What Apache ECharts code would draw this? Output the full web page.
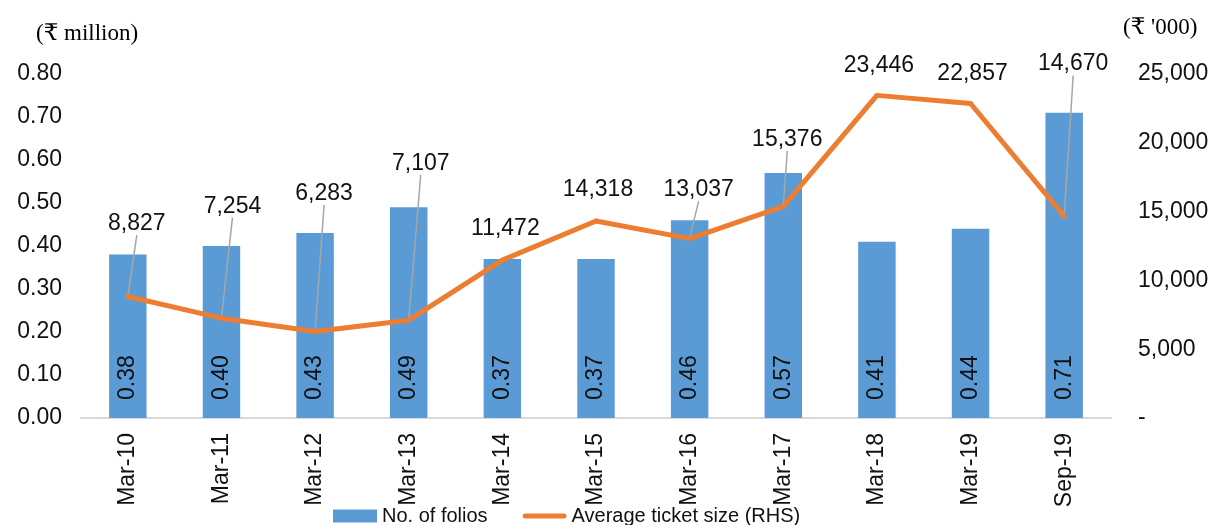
<!DOCTYPE html>
<html>
<head>
<meta charset="utf-8">
<script src="https://cdn.jsdelivr.net/npm/echarts@6/dist/echarts.min.js"></script>
<style>
  html, body { margin: 0; padding: 0; background: #fff; }
  #chart { width: 1216px; height: 525px; }
</style>
</head>
<body>
<div id="chart"></div>
<script>
// data
var categories = ['Mar-10', 'Mar-11', 'Mar-12', 'Mar-13', 'Mar-14', 'Mar-15', 'Mar-16', 'Mar-17', 'Mar-18', 'Mar-19', 'Sep-19'];
var folios = [0.38, 0.40, 0.43, 0.49, 0.37, 0.37, 0.46, 0.57, 0.41, 0.44, 0.71];
var ticketSize = [8827, 7254, 6283, 7107, 11472, 14318, 13037, 15376, 23446, 22857, 14670];

// where the line labels sit relative to their points (px), and which get a leader line
var labelDx = [9, 11, 9, 12, 3, 2, 9, 4, 2, 2, 9];
var labelDy = [-73, -112, -138, -157, -31, -31, -49, -67, -30, -30, -152];
var leader = [true, true, true, true, false, false, true, true, false, false, true];

var font = 'Arial, "Liberation Sans", sans-serif';
var serif = '"Liberation Serif", "DejaVu Serif", serif';

var chart = echarts.init(document.getElementById('chart'));

function fmtThousands(v) {
  return v.toString().replace(/\B(?=(\d{3})+(?!\d))/g, ',');
}

chart.setOption({
  animation: false,
  textStyle: { fontFamily: font },
  title: [
    { text: '(\u20B9 million)', left: 31, top: 17,
      textStyle: { fontFamily: serif, fontSize: 23, fontWeight: 'normal', color: '#000' } },
    { text: "(\u20B9 '000)", left: 1118, top: 11,
      textStyle: { fontFamily: serif, fontSize: 23, fontWeight: 'normal', color: '#000' } }
  ],
  grid: {
    left: 81,
    right: 105,
    top: 74,
    bottom: 107,
    containLabel: false
  },
  legend: {
    left: 328,
    top: 501,
    itemWidth: 44,
    itemHeight: 13,
    itemGap: 35,
    textStyle: { fontFamily: font, fontSize: 20, color: '#111' },
    data: [
      { name: 'No. of folios', icon: 'rect' },
      { name: 'Average ticket size (RHS)',
        icon: 'path://M2.5,0 L43.5,0 A2.5,2.5 0 0 1 43.5,5 L2.5,5 A2.5,2.5 0 0 1 2.5,0 Z' }
    ]
  },
  xAxis: {
    type: 'category',
    data: categories,
    axisLine: { lineStyle: { color: '#d9d9d9', width: 2 } },
    axisTick: { show: false },
    axisLabel: {
      interval: 0,
      rotate: 90,
      margin: 15,
      fontSize: 23,
      color: '#111',
      fontFamily: font
    }
  },
  yAxis: [
    {
      type: 'value',
      min: 0,
      max: 0.8,
      interval: 0.1,
      splitLine: { show: false },
      axisLine: { show: false },
      axisTick: { show: false },
      axisLabel: {
        margin: 19,
        fontSize: 23,
        color: '#111',
        formatter: function (v) { return v.toFixed(2); }
      }
    },
    {
      type: 'value',
      min: 0,
      max: 25000,
      interval: 5000,
      splitLine: { show: false },
      axisLine: { show: false },
      axisTick: { show: false },
      axisLabel: {
        margin: 27,
        fontSize: 23,
        color: '#111',
        formatter: function (v) { return v === 0 ? '-' : fmtThousands(v); }
      }
    }
  ],
  series: [
    {
      name: 'No. of folios',
      type: 'bar',
      data: folios,
      barWidth: '40%',
      itemStyle: { color: '#5b9bd5' },
      label: {
        show: true,
        position: 'insideBottom',
        rotate: 90,
        align: 'left',
        verticalAlign: 'middle',
        distance: 18,
        fontSize: 23,
        color: '#111',
        formatter: function (p) { return p.value.toFixed(2); }
      }
    },
    {
      name: 'Average ticket size (RHS)',
      type: 'line',
      yAxisIndex: 1,
      data: ticketSize.map(function (v, i) {
        return { value: v, labelLine: { show: leader[i] } };
      }),
      symbol: 'circle',
      symbolSize: 5,
      showSymbol: true,
      itemStyle: { color: '#ed7d31' },
      lineStyle: { color: '#ed7d31', width: 5 },
      label: {
        show: true,
        position: 'inside',
        fontSize: 23,
        color: '#111',
        formatter: function (p) { return fmtThousands(p.value); }
      },
      labelLine: {
        show: true,
        lineStyle: { color: '#a6a6a6', width: 1.5 }
      },
      labelLayout: function (p) {
        return { dx: labelDx[p.dataIndex], dy: labelDy[p.dataIndex] };
      }
    }
  ]
});
</script>
</body>
</html>
